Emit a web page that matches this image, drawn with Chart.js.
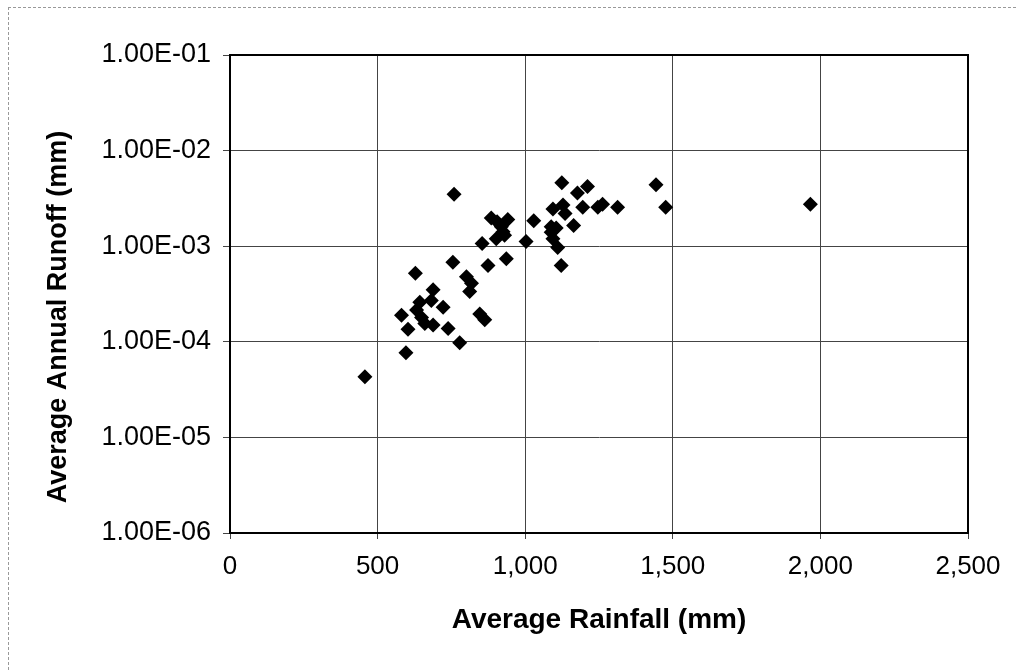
<!DOCTYPE html>
<html>
<head>
<meta charset="utf-8">
<script src="https://cdn.jsdelivr.net/npm/chart.js@4"></script>
<style>
  html, body { margin: 0; padding: 0; background: #fff; }
  #wrap { position: relative; width: 1016px; height: 670px; }
  #frame { position: absolute; left: 8px; top: 7px; right: 0; bottom: 0;
           border-top: 1px dashed #999; border-left: 1px dashed #999; }
  canvas { position: absolute; left: 0; top: 0; }
</style>
</head>
<body>
<div id="wrap">
  <div id="frame"></div>
  <canvas id="runoff-chart" width="1016" height="670"></canvas>
</div>
<script>
// rainfall (mm) and runoff (mm)
var rainfall = [457, 596, 778, 581, 603, 632, 643, 649, 660, 682, 688, 688, 722, 739,
    628, 755, 759, 801, 818, 812, 846, 863, 854, 874, 936,
    885, 905, 941, 919, 925, 902, 930,
    1003, 1029, 1088, 1105, 1088, 1094, 1110, 1122, 1164, 1094, 1128, 1135,
    1124, 1177, 1211, 1195, 1246, 1262, 1313, 1443, 1476, 1966];
var runoff = [4.3e-5, 7.7e-5, 9.8e-5, 1.9e-4, 1.35e-4, 2.15e-4, 2.6e-4, 1.8e-4, 1.55e-4, 2.7e-4, 1.5e-4, 3.5e-4, 2.3e-4, 1.38e-4,
    5.2e-4, 6.8e-4, 3.5e-3, 4.8e-4, 4.1e-4, 3.35e-4, 1.95e-4, 1.7e-4, 1.07e-3, 6.3e-4, 7.4e-4,
    1.97e-3, 1.8e-3, 1.9e-3, 1.6e-3, 1.42e-3, 1.2e-3, 1.3e-3,
    1.12e-3, 1.85e-3, 1.6e-3, 1.55e-3, 1.4e-3, 1.2e-3, 9.7e-4, 6.3e-4, 1.65e-3, 2.45e-3, 2.7e-3, 2.2e-3,
    4.6e-3, 3.6e-3, 4.2e-3, 2.55e-3, 2.55e-3, 2.75e-3, 2.55e-3, 4.4e-3, 2.55e-3, 2.75e-3];

var xTicks = [0, 500, 1000, 1500, 2000, 2500];
var yTicks = [1e-6, 1e-5, 1e-4, 1e-3, 1e-2, 1e-1];
var yTitle = 'Average Annual Runoff (mm)';

var points = rainfall.map(function (r, i) { return {x: r, y: runoff[i]}; });

function sciLabel(v) {
    var e = Math.round(Math.log10(v));
    var s = Math.abs(e) < 10 ? '0' + Math.abs(e) : '' + Math.abs(e);
    return '1.00E' + (e < 0 ? '-' : '+') + s;
}

// box round the plot area (Excel style) + y title, which sits a bit low in the original
var plotBorder = {
    id: 'plotBorder',
    afterDraw: function (chart) {
        var a = chart.chartArea, c = chart.ctx;
        c.save();
        c.strokeStyle = '#000';
        c.lineWidth = 2;
        c.strokeRect(a.left, a.top, a.right - a.left, a.bottom - a.top);
        c.translate(59, (a.top + a.bottom) / 2 + 23);
        c.rotate(-Math.PI / 2);
        c.fillStyle = '#000';
        c.font = 'bold 27px "Liberation Sans", Arial';
        c.textAlign = 'center';
        c.textBaseline = 'middle';
        c.fillText(yTitle, 0, 0);
        c.restore();
    }
};

var ctx = document.getElementById('runoff-chart').getContext('2d');
var chart = new Chart(ctx, {
    type: 'scatter',
    data: {
        datasets: [{
            label: 'Runoff',
            data: points,
            pointStyle: 'rectRot',
            pointRadius: 7.5,
            backgroundColor: '#000',
            borderColor: '#000',
            borderWidth: 0
        }]
    },
    options: {
        responsive: false,
        animation: false,
        layout: { padding: { left: 0, top: 55, right: 48, bottom: 0 } },
        plugins: {
            legend: { display: false },
            tooltip: { enabled: false }
        },
        scales: {
            x: {
                type: 'linear',
                min: 0,
                max: 2500,
                afterBuildTicks: function (scale) {
                    scale.ticks = xTicks.map(function (v) { return {value: v}; });
                },
                afterFit: function (scale) { scale.height = 137; },
                grid: { color: '#444', lineWidth: 1, tickLength: 6, tickColor: '#444' },
                border: { color: '#000', width: 2 },
                ticks: {
                    color: '#000',
                    padding: 12,
                    maxRotation: 0,
                    font: { family: 'Liberation Sans, Arial', size: 26 },
                    callback: function (v) { return v.toLocaleString('en-US'); }
                },
                title: {
                    display: true,
                    text: 'Average Rainfall (mm)',
                    color: '#000',
                    font: { family: 'Liberation Sans, Arial', size: 28, weight: 'bold' },
                    padding: { top: 0, bottom: 33 }
                }
            },
            y: {
                type: 'logarithmic',
                min: 1e-6,
                max: 1e-1,
                afterBuildTicks: function (scale) {
                    scale.ticks = yTicks.map(function (v) { return {value: v}; });
                },
                afterFit: function (scale) { scale.width = 230; },
                grid: { color: '#444', lineWidth: 1, tickLength: 7, tickColor: '#444' },
                border: { color: '#000', width: 2 },
                ticks: {
                    color: '#000',
                    padding: 12,
                    font: { family: 'Liberation Sans, Arial', size: 27 },
                    callback: function (v) { return sciLabel(v); }
                },
                title: { display: false }
            }
        }
    },
    plugins: [plotBorder]
});
</script>
</body>
</html>
